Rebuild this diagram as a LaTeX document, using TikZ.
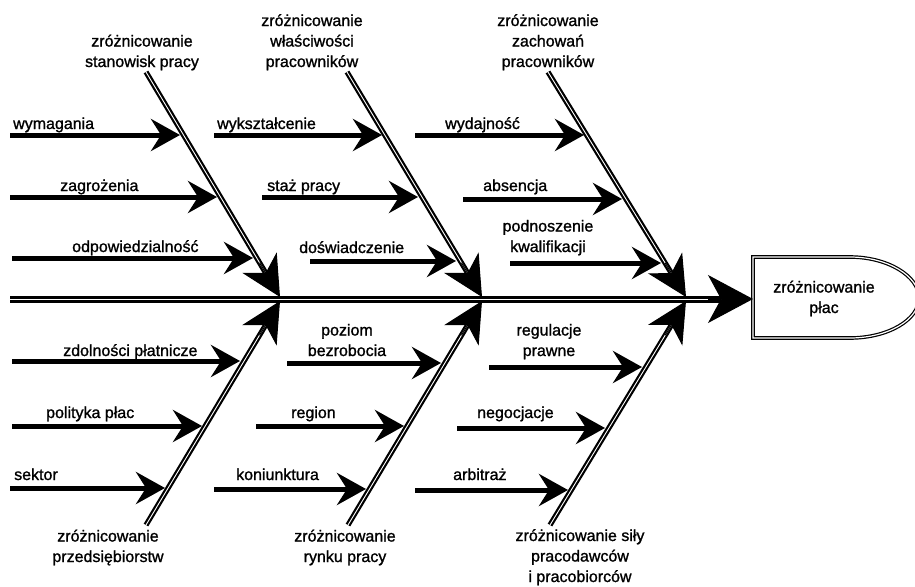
\documentclass[tikz,border=0pt]{standalone}
\usepackage{fontspec}
\setmainfont{Liberation Sans}[FakeBold=1.2]
\usetikzlibrary{arrows.meta,calc}

\tikzset{
  bone/.style={draw=black, double=white, line width=2.2pt, double distance=0.9pt},
  bonetip/.style={-{Stealth[length=40pt, width=40pt, inset=12pt]}, line width=1pt},
  spine/.style={draw=black, double=white, line width=3pt, double distance=1pt},
  spinetip/.style={-{Stealth[length=45pt, width=48pt, inset=13pt]}, line width=1pt},
  causearrow/.style={line width=5pt, -{Stealth[length=29pt, width=32pt, inset=10pt]}},
  lbl/.style={inner sep=0pt, align=center},
}

\begin{document}
\begin{tikzpicture}[x=1pt, y=-1pt, font=\fontsize{16}{20.5}\selectfont]
  \useasboundingbox (0,0) rectangle (915,586);

  % skutek
  \coordinate (tail) at (10,299);
  \coordinate (neck) at (708,299);
  \coordinate (head) at (753,299);
  \draw[draw=black, double=white, line width=1.2pt, double distance=1.2pt]
    (850,257) -- (753,257) -- (753,338) -- (850,338)
    .. controls (887.6,338) and (919,320) .. (919,298)
    .. controls (919,276) and (887.6,257) .. (850,257) -- cycle;
  \node[lbl, anchor=base] (effect) at (824,313) {zróżnicowanie\\płac};

  % ość główna
  \draw[spine] (tail) -- ($(head)!22pt!(tail)$);
  \draw[spinetip] (neck) -- (head);

  % ości górne i dolne
  \foreach \b/\tx/\sx in {1/146/280, 2/347/482, 3/548/686} {
    \coordinate (top\b) at (\tx,72);
    \coordinate (jt\b) at (\sx,297);
    \draw[bone] (top\b) -- ($(jt\b)!20pt!(top\b)$);
    \draw[bonetip] ($(jt\b)!40pt!(top\b)$) -- (jt\b);
  }
  \foreach \b/\tx/\sx in {1/146/280, 2/348/482, 3/550/686} {
    \coordinate (bot\b) at (\tx,525);
    \coordinate (jb\b) at (\sx,301);
    \draw[bone] (bot\b) -- ($(jb\b)!20pt!(bot\b)$);
    \draw[bonetip] ($(jb\b)!40pt!(bot\b)$) -- (jb\b);
  }

  % przyczyny
  \foreach \n/\sx/\tx/\y in {
      wym/10/180/135, zag/10/217/197, odp/12/253/258,
      wyk/214/382/135, staz/262/418/197, dos/310/456/261,
      wyd/415/584/135, abs/463/622/199, pod/510/661/263,
      zdo/12/240/361, pol/12/202/426, sek/10/165/488,
      poz/287/441/363, reg/256/404/426, kon/214/366/489,
      ust/489/642/367, neg/457/605/428, arb/415/568/490} {
    \coordinate (\n-a) at (\sx,\y);
    \coordinate (\n-b) at (\tx,\y);
    \draw[causearrow] (\n-a) -- (\n-b);
  }

  % opisy przyczyn
  \node[lbl, anchor=base west] (l-wym) at (13,129) {wymagania};
  \node[lbl, anchor=base west] (l-zag) at (60,191) {zagrożenia};
  \node[lbl, anchor=base west] (l-odp) at (72,252) {odpowiedzialność};
  \node[lbl, anchor=base west] (l-wyk) at (217,129) {wykształcenie};
  \node[lbl, anchor=base west] (l-staz) at (267,191) {staż pracy};
  \node[lbl, anchor=base west] (l-dos) at (299,253) {doświadczenie};
  \node[lbl, anchor=base west] (l-wyd) at (445,129) {wydajność};
  \node[lbl, anchor=base west] (l-abs) at (483,191) {absencja};
  \node[lbl, anchor=base] (l-pod) at (548,252) {podnoszenie\\kwalifikacji};
  \node[lbl, anchor=base west] (l-zdo) at (63,356) {zdolności płatnicze};
  \node[lbl, anchor=base west] (l-pol) at (46,418) {polityka płac};
  \node[lbl, anchor=base west] (l-sek) at (14,480) {sektor};
  \node[lbl, anchor=base] (l-poz) at (347,356) {poziom\\bezrobocia};
  \node[lbl, anchor=base west] (l-reg) at (291,418) {region};
  \node[lbl, anchor=base west] (l-kon) at (236,480) {koniunktura};
  \node[lbl, anchor=base] (l-ust) at (549,356) {regulacje\\prawne};
  \node[lbl, anchor=base west] (l-neg) at (477,418) {negocjacje};
  \node[lbl, anchor=base west] (l-arb) at (453,480) {arbitraż};

  % grupy
  \node[lbl, anchor=base] (g1) at (142,67) {zróżnicowanie\\stanowisk pracy};
  \node[lbl, anchor=base] (g2) at (312,67) {zróżnicowanie\\właściwości\\pracowników};
  \node[lbl, anchor=base] (g3) at (548,67) {zróżnicowanie\\zachowań\\pracowników};
  \node[lbl, anchor=base] (g4) at (108,562) {zróżnicowanie\\przedsiębiorstw};
  \node[lbl, anchor=base] (g5) at (345,562) {zróżnicowanie\\rynku pracy};
  \node[lbl, anchor=base] (g6) at (580,582) {zróżnicowanie siły\\pracodawców\\i pracobiorców};
\end{tikzpicture}
\end{document}
